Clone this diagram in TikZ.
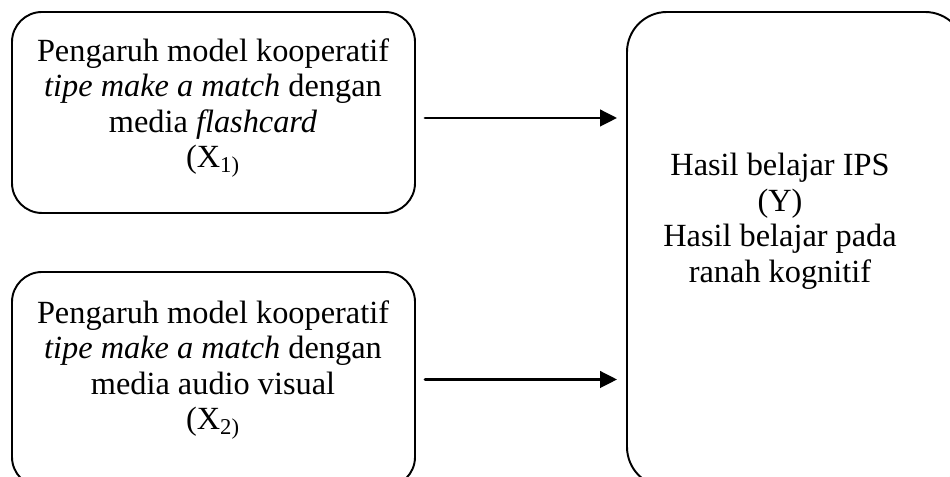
\documentclass[tikz,border=0pt]{standalone}
\usepackage{fontspec}
\setmainfont{Liberation Serif}
\usetikzlibrary{arrows.meta,positioning}

\begin{document}
\begin{tikzpicture}[line cap=round,line join=round,>={Triangle[length=0.34cm,width=0.33cm]},x=1cm,y=1cm,
	every node/.style={font=\fontsize{18.4}{20.2}\selectfont},
	varbox/.style={draw,line width=1.1pt,rounded corners=0.6cm,inner sep=0pt},
	vartext/.style={align=center,inner sep=0pt}]

\useasboundingbox (0,0) rectangle (19,9.54);

% kotak variabel
\node[varbox,minimum width=8.06cm,minimum height=4.02cm] (x1) at (4.27,7.29) {};
\node[varbox,minimum width=8.06cm,minimum height=4.30cm] (x2) at (4.27,1.95) {};
\node[varbox,rounded corners=0.8cm,minimum width=6.76cm,minimum height=9.50cm] (y) at (15.92,4.55) {};

% teks
\node[vartext] (x1txt) at (4.26,7.38) {Pengaruh model kooperatif\\\textit{tipe make a match} dengan\\media \textit{flashcard}\\(X\textsubscript{1)}};
\node[vartext] (x2txt) at (4.26,2.14) {Pengaruh model kooperatif\\\textit{tipe make a match} dengan\\media audio visual\\(X\textsubscript{2)}};
\node[vartext] (ytxt) at (15.6,5.11) {Hasil belajar IPS\\(Y)\\Hasil belajar pada\\ranah kognitif};

% panah
\draw [->,line width=1.5pt,shorten <=0.18cm,shorten >=0.18cm] ([yshift=-0.11cm]x1.east) -- ([yshift=-0.11cm]x1.east -| y.west);
\draw [->,line width=1.5pt,shorten <=0.18cm,shorten >=0.18cm] (x2.east) -- (x2.east -| y.west);
\end{tikzpicture}
\end{document}
